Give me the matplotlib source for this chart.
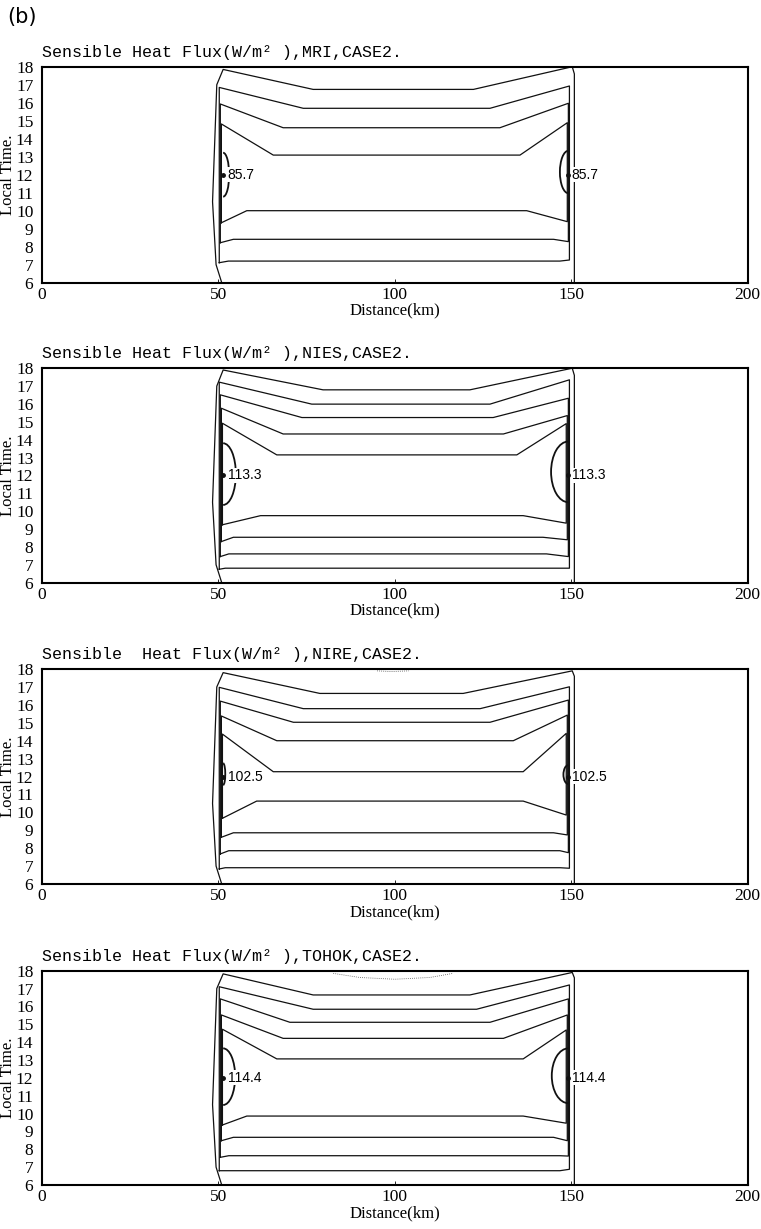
import matplotlib
matplotlib.use('Agg')
import matplotlib.pyplot as plt
from matplotlib.patches import Arc

# panel titles and labelled maxima
titles = ['Sensible Heat Flux(W/m² ),MRI,CASE2.',
          'Sensible Heat Flux(W/m² ),NIES,CASE2.',
          'Sensible  Heat Flux(W/m² ),NIRE,CASE2.',
          'Sensible Heat Flux(W/m² ),TOHOK,CASE2.']
peak_values = ['85.7', '113.3', '102.5', '114.4']

x_ticks = [0, 50, 100, 150, 200]
y_ticks = list(range(6, 19))

# upper branch of each closed contour, outermost first (local time, h / distance, km)
top_flat = [[16.74, 15.69, 14.61, 13.09],
            [16.79, 15.99, 15.24, 14.32, 13.15],
            [16.64, 15.79, 15.03, 14.00, 12.27],
            [16.64, 15.84, 15.11, 14.21, 13.06]]
top_west = [[17.85, 16.85, 15.93, 14.82],
            [17.90, 17.22, 16.51, 15.76, 14.92],
            [17.80, 16.98, 16.21, 15.38, 14.37],
            [17.82, 17.10, 16.42, 15.52, 14.72]]
top_east = [[18.00, 16.93, 15.97, 14.89],
            [18.00, 17.35, 16.32, 15.35, 14.90],
            [17.90, 17.01, 16.27, 15.43, 14.41],
            [17.90, 17.20, 16.42, 15.52, 14.68]]
top_knee_w = [[76.9, 74.1, 68.4, 65.6],
              [79.7, 76.5, 73.7, 68.4, 66.6],
              [78.8, 74.1, 71.3, 66.6, 65.6],
              [76.9, 76.9, 70.3, 68.4, 66.6]]
top_knee_e = [[122.3, 127.0, 129.8, 135.5],
              [121.3, 127.0, 127.9, 130.8, 134.6],
              [119.4, 124.2, 127.0, 133.6, 136.4],
              [121.3, 123.2, 127.0, 130.8, 136.4]]

# lower branch, outermost first (the outermost contour leaves through 06 LT)
bot_flat = [[7.20, 8.41, 10.00],
            [6.81, 7.61, 8.54, 9.75],
            [6.91, 7.86, 8.86, 10.63],
            [6.80, 7.64, 8.67, 9.86]]
bot_west = [[7.11, 8.22, 9.33],
            [6.75, 7.46, 8.30, 9.24],
            [6.84, 7.68, 8.61, 9.67],
            [6.80, 7.55, 8.48, 9.36]]
bot_east = [[7.26, 8.28, 9.39],
            [6.81, 7.46, 8.40, 9.33],
            [6.88, 7.75, 8.74, 9.85],
            [6.88, 7.62, 8.48, 9.46]]
bot_knee_w = [[52.9, 54.3, 58.1],
              [52.0, 53.0, 54.3, 62.0],
              [52.0, 53.0, 54.3, 60.9],
              [52.0, 53.0, 54.3, 58.1]]
bot_knee_e = [[146.8, 145.0, 137.4],
              [143.0, 143.0, 142.0, 136.4],
              [146.8, 146.8, 145.0, 136.4],
              [146.8, 146.8, 145.0, 136.4]]

# coast-side legs of the inner contours
west_side = [50.3, 50.6, 50.9, 51.2, 51.5]
east_side = [149.5, 149.2, 148.9, 148.6, 148.3]

# outermost contour, west leg (bottom to top)
outer_west_x = [51.0, 49.4, 48.4, 49.6]
outer_west_y = [6.0, 7.0, 10.5, 17.0]
east_coast = 150.9

# small closed contour round the maximum: top, bottom, reach
peak_w = [[13.22, 10.78, 53.1], [13.80, 10.35, 55.0], [12.74, 11.53, 52.0], [13.65, 10.48, 54.8]]
peak_e = [[13.33, 10.97, 146.8], [13.90, 10.50, 144.3], [12.64, 11.58, 147.8], [13.65, 10.58, 144.5]]
peak_x = [51.4, 149.2]
peak_time = 12.0

# faint dotted contour near the top
dotted_x = [[], [], [95.0, 99.0, 104.0], [82.6, 90.0, 100.0, 110.0, 116.6]]
dotted_y = [[], [], [17.9, 17.86, 17.9], [17.85, 17.62, 17.52, 17.62, 17.85]]

fig = plt.figure(figsize=(7.61, 12.29), dpi=100)
fig.text(0.009, 0.994, '(b)', fontsize=15, va='top', ha='left', family='DejaVu Sans')

# axes boxes (left, bottom, width, height) in figure fraction
rects = [[0.0548, 0.7700, 0.9277, 0.1757],
         [0.0548, 0.5259, 0.9277, 0.1745],
         [0.0548, 0.2807, 0.9277, 0.1749],
         [0.0548, 0.0358, 0.9277, 0.1744]]

lc = '#111111'
lw = 0.9

for p in range(4):
    ax = fig.add_axes(rects[p])
    ax.set_xlim(0, 200)
    ax.set_ylim(6, 18)

    # outermost contour: west leg, top branch, east leg down the coast
    xs = outer_west_x + [outer_west_x[-1] + 1.8, top_knee_w[p][0], top_knee_e[p][0], 150.3, east_coast, east_coast]
    ys = outer_west_y + [top_west[p][0], top_flat[p][0], top_flat[p][0], top_east[p][0], 17.6, 6.0]
    ax.plot(xs, ys, color=lc, lw=lw)

    # inner closed contours
    for k in range(1, len(top_flat[p])):
        xw = west_side[k - 1]
        xe = east_side[k - 1]
        xs = [xw, xw, top_knee_w[p][k], top_knee_e[p][k], xe, xe,
              bot_knee_e[p][k - 1], bot_knee_w[p][k - 1], xw]
        ys = [bot_west[p][k - 1], top_west[p][k], top_flat[p][k], top_flat[p][k], top_east[p][k],
              bot_east[p][k - 1], bot_flat[p][k - 1], bot_flat[p][k - 1], bot_west[p][k - 1]]
        ax.plot(xs, ys, color=lc, lw=lw)

    # maximum contour at both coasts
    top, bot, reach = peak_w[p]
    ax.add_patch(Arc((peak_x[0], (top + bot) / 2), 2 * (reach - peak_x[0]), top - bot,
                     theta1=-90, theta2=90, color=lc, lw=1.3))
    top, bot, reach = peak_e[p]
    ax.add_patch(Arc((peak_x[1], (top + bot) / 2), 2 * (peak_x[1] - reach), top - bot,
                     theta1=90, theta2=270, color=lc, lw=1.3))
    ax.plot(peak_x, [peak_time, peak_time], 'o', color=lc, ms=2.5)
    for px in peak_x:
        ax.text(px + 1.3 if px < 100 else px + 0.9, peak_time, peak_values[p], fontsize=10,
                family='Liberation Sans', va='center', ha='left', zorder=5,
                bbox=dict(facecolor='white', edgecolor='none', pad=0.3))

    if dotted_x[p]:
        ax.plot(dotted_x[p], dotted_y[p], color='#555555', lw=0.6, ls=(0, (1, 1.5)))

    ax.set_xticks(x_ticks)
    ax.set_yticks(y_ticks)
    ax.tick_params(axis='x', direction='in', length=3, width=0.6, pad=3, labelsize=12.5)
    ax.tick_params(axis='y', length=0, pad=6, labelsize=12.5)
    for lab in ax.get_xticklabels() + ax.get_yticklabels():
        lab.set_family('Liberation Serif')
    for s in ax.spines.values():
        s.set_linewidth(1.5)

    ax.set_title(titles[p], loc='left', pad=7, fontsize=12, family='Liberation Mono')
    ax.set_xlabel('Distance(km)', fontsize=12, family='Liberation Serif', labelpad=0)
    ax.set_ylabel('Local Time.', fontsize=12, family='Liberation Serif')
    ax.yaxis.set_label_coords(-0.037, 0.5)

fig.savefig('out.png', dpi=100)
